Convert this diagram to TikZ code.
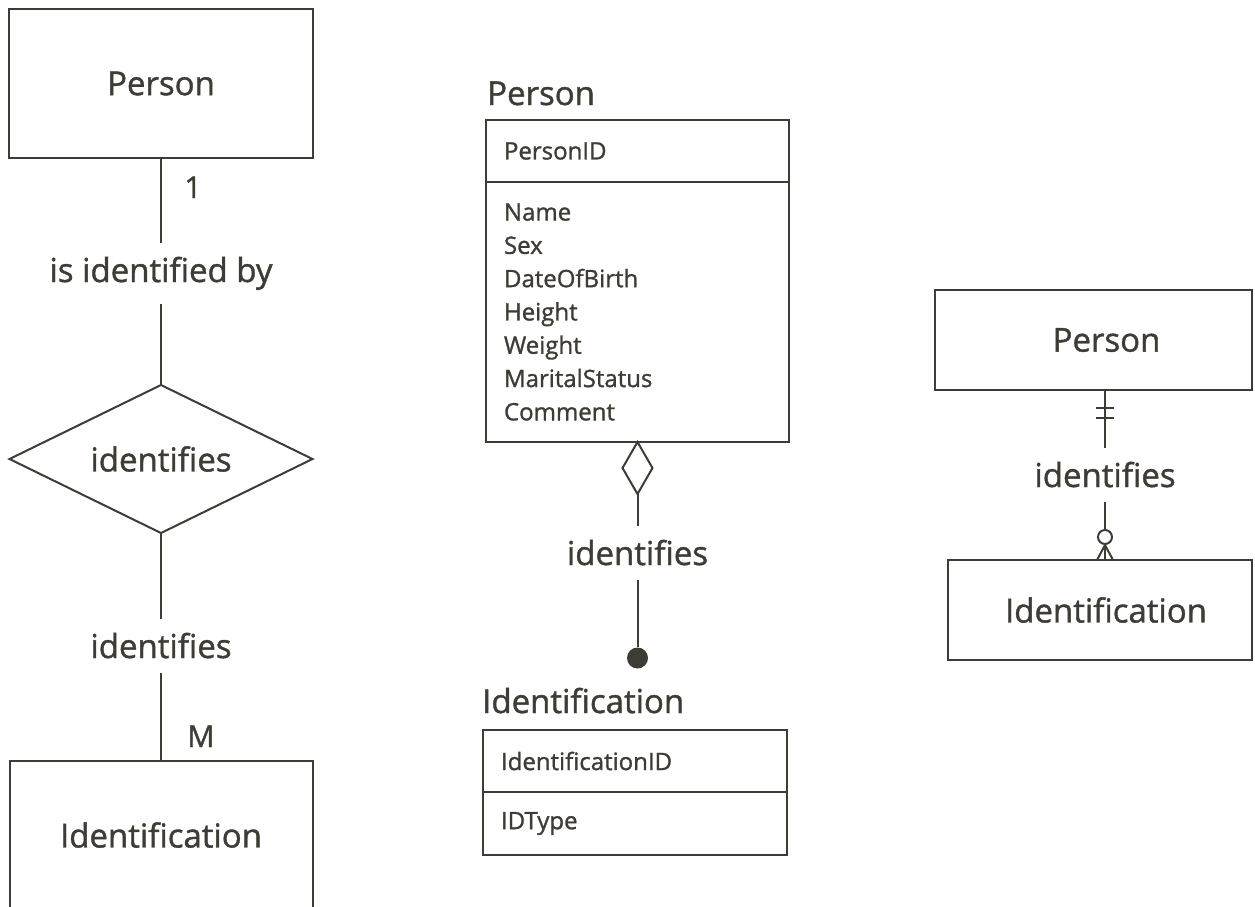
\documentclass[tikz,border=0pt]{standalone}
\usepackage{fontspec}
\setmainfont{Open Sans}[RawFeature={embolden=1.2}]
\usetikzlibrary{shapes.geometric,positioning,calc}

\definecolor{ink}{RGB}{62,60,52}
\newcommand{\erbig}{\fontsize{33}{40}\selectfont}
\newcommand{\ercard}{\fontsize{30}{36}\selectfont}
\newcommand{\erattr}{\fontsize{24}{33.3}\selectfont}

\tikzset{
  entity/.style={draw=ink, line width=2pt, font=\erbig, text=ink, inner sep=0pt, outer sep=0pt},
  rel/.style={font=\erbig, text=ink, inner xsep=2pt, inner ysep=14pt, anchor=base},
  link/.style={draw=ink, line width=2pt},
  row/.style={draw=ink, line width=2pt, font=\erattr, text=ink, text width=267pt, inner xsep=18pt, inner ysep=0pt, align=left, minimum height=62pt, outer sep=0pt},
  title/.style={font=\erbig, text=ink, inner sep=0pt, anchor=base west},
  card/.style={font=\ercard, text=ink, inner sep=0pt, anchor=base},
  dia/.style={diamond, draw=ink, line width=2pt, fill=white, minimum width=30pt, minimum height=52pt, inner sep=0pt, outer sep=0pt},
  dot/.style={circle, fill=ink, minimum size=21pt, inner sep=0pt},
  ring/.style={circle, draw=ink, line width=2pt, fill=white, minimum size=14pt, inner sep=0pt}
}

\begin{document}
\begin{tikzpicture}[x=1pt,y=-1pt]
\useasboundingbox (0,0) rectangle (1255,906);
\clip (0,0) rectangle (1255,906);

% Left: Chen notation
\node[entity, minimum width=304pt, minimum height=149pt] (lperson) at (161,83.5) {Person};
\node[rel] (lrel) at (161,282) {is identified by};
\node[entity, diamond, aspect=2.05, minimum width=303pt, minimum height=148pt, fill=white] (ldia) at (161,459) {identifies};
\node[rel] (lrole) at (161,658) {identifies};
\node[entity, minimum width=303pt, minimum height=148pt] (lident) at (161,835) {Identification};
\node[card] (lone) at (193,198) {1};
\node[card] (lmany) at (201,747) {M};
\draw[link] (lperson) -- (lrel);
\draw[link] (lrel) -- (ldia);
\draw[link] (ldia) -- (lrole);
\draw[link] (lrole) -- (lident);

% Middle: class boxes with attributes
\node[title] (mptitle) at (487,105) {Person};
\node[row, anchor=north west] (mpid) at (486,120) {PersonID};
\node[row, minimum height=260pt, below=0pt of mpid] (mattr) {Name\\Sex\\DateOfBirth\\Height\\Weight\\MaritalStatus\\Comment};
\node[dia, below=0pt of mattr] (mdia) {};
\node[rel] (mlab) at (637.5,565) {identifies};
\node[dot] (mdot) at (637.5,658) {};
\draw[link] (mdia) -- (mlab);
\draw[link] (mlab) -- (mdot);

\node[title] (mititle) at (482,713) {Identification};
\node[row, anchor=north west, text width=268pt] (miid) at (483,730) {IdentificationID};
\node[row, minimum height=63pt, text width=268pt, below=0pt of miid] (mitype) {IDType};

% Right: crow's foot notation
\node[entity, minimum width=317pt, minimum height=100pt] (rperson) at (1093.5,340) {\hspace*{26pt}Person};
\node[rel] (rlab) at (1105,487) {identifies};
\node[entity, minimum width=304pt, minimum height=100pt] (rident) at (1100,610) {\hspace*{12pt}Identification};
\node[ring] (rring) at (1105,537) {};
\coordinate (rtop) at (rlab |- rperson.south);
\coordinate (rfoot) at (rlab |- rident.north);
\draw[link] (rtop) -- (rlab);
\draw[link] (rlab) -- (rring);
% one and only one
\foreach \t in {18,28}
  \draw[link] ($(rtop)+(-9,\t)$) -- ($(rtop)+(9,\t)$);
% zero or many
\foreach \f in {-8,0,8}
  \draw[link] (rring.south) -- ($(rfoot)+(\f,0)$);
\end{tikzpicture}
\end{document}
